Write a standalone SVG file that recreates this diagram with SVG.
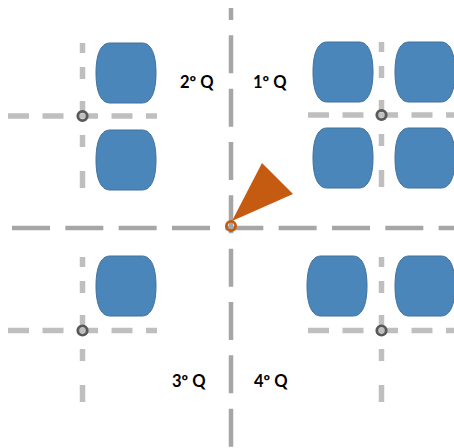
<svg xmlns="http://www.w3.org/2000/svg" width="454" height="448" viewBox="0 0 454 448">
<style>
.axis{stroke:#a6a6a6;stroke-width:4.5;fill:none;stroke-dasharray:38 15.33}
.gh{stroke:#bfbfbf;stroke-width:5.5;fill:none;stroke-dasharray:21 13.5}
.gv{stroke:#bfbfbf;stroke-width:5.5;fill:none;stroke-dasharray:10 14 12 22 12 22 12 24 18 20}
.pt{stroke:#595959;stroke-width:2.8;fill:none}
.blob{fill:#4a86b9;stroke:#41719c;stroke-width:1}
.lbl{font-family:Lato,"Open Sans","Liberation Sans",sans-serif;font-weight:bold;font-size:16.5px;fill:#000}
</style>
<defs>
<path id="b" d="M14,0 H46 C56,0 60,13 60,30 C60,47 56,60 46,60 H14 C4,60 0,47 0,30 C0,13 4,0 14,0 Z"/>
</defs>
<g id="connectors">
<line class="axis" x1="231" y1="8" x2="231" y2="448" stroke-dashoffset="26"/>
<line class="axis" x1="12" y1="228" x2="454" y2="228"/>
<line class="gv" x1="82.5" y1="43" x2="82.5" y2="188"/>
<line class="gh" x1="8" y1="116" x2="157" y2="116"/>
<line class="gv" x1="381.5" y1="42" x2="381.5" y2="187"/>
<line class="gh" x1="308" y1="115" x2="454" y2="115"/>
<line class="gv" x1="82.5" y1="257" x2="82.5" y2="402"/>
<line class="gh" x1="8" y1="330.5" x2="157" y2="330.5"/>
<line class="gv" x1="381.5" y1="257" x2="381.5" y2="402"/>
<line class="gh" x1="308" y1="330.5" x2="454" y2="330.5"/>
</g>
<g id="points">
<circle class="pt" cx="82.5" cy="116" r="4.7"/>
<circle class="pt" cx="381.5" cy="115" r="4.7"/>
<circle class="pt" cx="82.5" cy="330.5" r="4.7"/>
<circle class="pt" cx="381.5" cy="330.5" r="4.7"/>
</g>
<g id="q2-blobs">
<use href="#b" class="blob" x="96" y="43"/>
<use href="#b" class="blob" x="96" y="130"/>
</g>
<g id="q1-blobs">
<use href="#b" class="blob" x="313" y="42"/>
<use href="#b" class="blob" x="395" y="42"/>
<use href="#b" class="blob" x="313" y="128"/>
<use href="#b" class="blob" x="395" y="128"/>
</g>
<g id="q3-blobs">
<use href="#b" class="blob" x="96" y="256"/>
</g>
<g id="q4-blobs">
<use href="#b" class="blob" x="307" y="256"/>
<use href="#b" class="blob" x="395" y="256"/>
</g>
<g id="robot">
<polygon points="232,221 262,163 293,194" fill="#c55a11"/>
<circle cx="231" cy="226" r="4.6" fill="none" stroke="#c55a11" stroke-width="2.8"/>
</g>
<g id="labels">
<text class="lbl" x="180" y="88">2º Q</text>
<text class="lbl" x="253" y="88">1º Q</text>
<text class="lbl" x="172" y="387">3º Q</text>
<text class="lbl" x="254" y="387">4º Q</text>
</g>
</svg>
